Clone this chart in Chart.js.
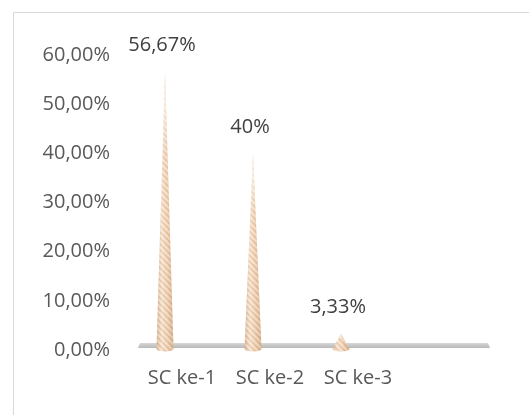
<!DOCTYPE html>
<html><head><meta charset="utf-8">
<script src="https://cdn.jsdelivr.net/npm/chart.js@4.4.0/dist/chart.umd.min.js"></script>
<style>html,body{margin:0;padding:0;background:#fff;overflow:hidden}#wrap{position:relative;width:529px;height:415px}</style>
</head><body><div id="wrap"><canvas id="c" width="529" height="415"></canvas></div>
<script>
const categories = ['SC ke-1', 'SC ke-2', 'SC ke-3'];
const values = [56.67, 40, 3.33];
const valueLabels = ['56,67%', '40%', '3,33%'];
const yTicks = [0, 10, 20, 30, 40, 50, 60];
const yTickLabels = ['0,00%', '10,00%', '20,00%', '30,00%', '40,00%', '50,00%', '60,00%'];

const FONT = '"Open Sans", "Noto Sans", sans-serif';
const DEPTH_SHIFT = 17;

function makeStripes() {
  const c = document.createElement('canvas');
  c.width = 6; c.height = 6;
  const g = c.getContext('2d');
  g.lineWidth = 1.5;
  g.strokeStyle = 'rgba(170,125,90,0.35)';
  g.beginPath();
  for (let k = -6; k <= 12; k += 6) { g.moveTo(k, 0); g.lineTo(k + 6, 6); }
  g.stroke();
  g.strokeStyle = 'rgba(255,252,245,0.6)';
  g.beginPath();
  for (let k = -3; k <= 12; k += 6) { g.moveTo(k, 0); g.lineTo(k + 6, 6); }
  g.stroke();
  return c;
}
const stripeCanvas = makeStripes();

const framePlugin = {
  id: 'frame',
  beforeDraw(chart) {
    const ctx = chart.ctx;
    ctx.save();
    ctx.strokeStyle = '#d9d9d9';
    ctx.lineWidth = 1;
    ctx.beginPath();
    ctx.moveTo(13.5, 415); ctx.lineTo(13.5, 12.5); ctx.lineTo(529, 12.5);
    ctx.stroke();
    ctx.restore();
  },
  beforeDatasetsDraw(chart) {
    const ctx = chart.ctx;
    const yBase = chart.scales.y.getPixelForValue(0);
    const {left, right} = chart.chartArea;
    ctx.save();
    const g = ctx.createLinearGradient(0, yBase - 7, 0, yBase - 2);
    g.addColorStop(0, '#d8d8d8');
    g.addColorStop(0.5, '#c6c6c6');
    g.addColorStop(1, '#bababa');
    ctx.fillStyle = g;
    ctx.beginPath();
    ctx.moveTo(left + 2, yBase - 7);
    ctx.lineTo(right - 2, yBase - 7);
    ctx.lineTo(right, yBase - 2);
    ctx.lineTo(left, yBase - 2);
    ctx.closePath();
    ctx.fill();
    ctx.restore();
  },
  afterDatasetsDraw(chart) {
    const ctx = chart.ctx;
    const meta = chart.getDatasetMeta(0);
    const pattern = ctx.createPattern(stripeCanvas, 'repeat');
    meta.data.forEach((bar, i) => {
      const p = bar.getProps(['x', 'y', 'base', 'width'], true);
      const cx = p.x - DEPTH_SHIFT;
      const tip = p.y;
      const base = p.base - 1;
      const hw = p.width / 2;
      ctx.save();
      ctx.beginPath();
      ctx.moveTo(cx + hw, base);
      ctx.lineTo(cx, tip);
      ctx.lineTo(cx - hw, base);
      ctx.ellipse(cx, base, hw, 2.5, 0, Math.PI, 0, true);
      ctx.closePath();
      const g = ctx.createLinearGradient(cx - hw, 0, cx + hw, 0);
      g.addColorStop(0, '#d9b696');
      g.addColorStop(0.3, '#f8e3cf');
      g.addColorStop(0.6, '#f1d2b4');
      g.addColorStop(1, '#d8b08c');
      ctx.fillStyle = g;
      ctx.fill();
      ctx.clip();
      ctx.fillStyle = pattern;
      ctx.globalAlpha = 0.55;
      ctx.fillRect(cx - hw - 1, tip - 1, 2 * hw + 2, base - tip + 5);
      ctx.globalAlpha = 1;
      const h = base - tip;
      const fg = ctx.createLinearGradient(0, tip, 0, tip + Math.max(h * 0.3, 4));
      fg.addColorStop(0, 'rgba(250,250,250,0.9)');
      fg.addColorStop(1, 'rgba(255,255,255,0)');
      ctx.fillStyle = fg;
      ctx.fillRect(cx - hw - 1, tip - 1, 2 * hw + 2, h + 5);
      ctx.restore();

      ctx.save();
      ctx.font = '20px ' + FONT;
      ctx.fillStyle = '#404040';
      ctx.textAlign = 'center';
      ctx.textBaseline = 'middle';
      ctx.fillText(valueLabels[i], cx - 3, tip - 26);
      ctx.restore();
    });
  }
};

new Chart(document.getElementById('c'), {
  type: 'bar',
  data: {
    datasets: [{
      data: values.map((v, i) => ({x: i, y: v})),
      backgroundColor: 'rgba(0,0,0,0)',
      borderWidth: 0,
      barThickness: 17
    }]
  },
  options: {
    responsive: false,
    animation: false,
    events: [],
    layout: {padding: {top: 55, right: 39, left: 0, bottom: 0}},
    plugins: {legend: {display: false}, tooltip: {enabled: false}, title: {display: false}},
    scales: {
      x: {
        type: 'linear',
        min: -0.5,
        max: 3.5,
        offset: false,
        grid: {display: false, drawTicks: false},
        border: {display: false},
        afterBuildTicks(scale) { scale.ticks = categories.map((c, i) => ({value: i})); },
        afterFit(scale) { scale.height = 65; },
        ticks: {
          autoSkip: false,
          maxRotation: 0,
          padding: 16,
          color: '#595959',
          font: {family: FONT, size: 20},
          callback: (v) => categories[v] !== undefined ? categories[v] : ''
        }
      },
      y: {
        type: 'linear',
        min: 0,
        max: 60,
        grid: {display: false, drawTicks: false},
        border: {display: false},
        afterBuildTicks(scale) { scale.ticks = yTicks.map(v => ({value: v})); },
        afterFit(scale) { scale.width = 138; },
        ticks: {
          padding: 28,
          color: '#595959',
          font: {family: FONT, size: 20},
          callback: (v) => yTickLabels[yTicks.indexOf(v)]
        }
      }
    }
  },
  plugins: [framePlugin]
});
</script>
</body></html>
